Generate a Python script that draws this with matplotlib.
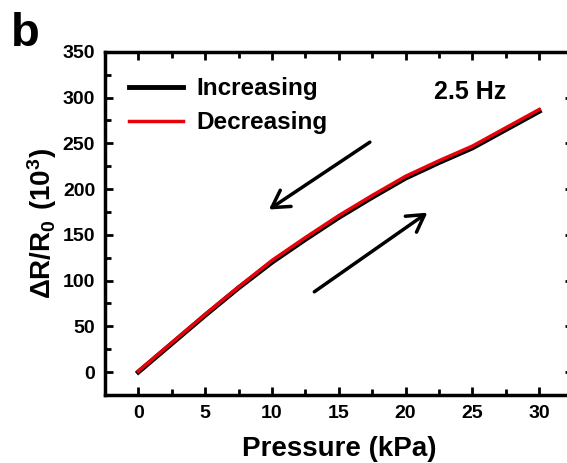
import matplotlib
matplotlib.use("Agg")
import matplotlib.pyplot as plt
from matplotlib.ticker import MultipleLocator

plt.rcParams['font.family'] = ['Liberation Sans', 'DejaVu Sans']
plt.rcParams['font.weight'] = 'bold'
plt.rcParams['mathtext.fontset'] = 'custom'
plt.rcParams['mathtext.rm'] = 'Liberation Sans'
plt.rcParams['mathtext.bf'] = 'Liberation Sans:bold'

# pressure (kPa) and resistance change (10^3)
pressure = [0, 2.5, 5, 7.5, 10, 12.5, 15, 17.5, 20, 22.5, 25, 27.5, 30]
increasing = [0, 31, 62, 92, 120, 145, 169, 191, 212, 229, 245, 265, 285]
decreasing = [1, 32, 63, 93, 122, 147, 171, 193, 214, 231, 247, 267, 287]

fig = plt.figure(figsize=(5.67, 4.63), dpi=100)
ax = fig.add_axes([0.185, 0.147, 0.825, 0.741])

ax.plot(pressure, increasing, color='black', linewidth=3.5, label='Increasing')
ax.plot(pressure, decreasing, color='#e8000b', linewidth=2.5, label='Decreasing')

ax.set_xlim(-2.5, 32.5)
ax.set_ylim(-25, 350)
ax.xaxis.set_major_locator(MultipleLocator(5))
ax.xaxis.set_minor_locator(MultipleLocator(2.5))
ax.yaxis.set_major_locator(MultipleLocator(50))
ax.yaxis.set_minor_locator(MultipleLocator(25))
ax.tick_params(which='both', direction='in', top=True, right=True, width=2)
ax.tick_params(which='major', length=6, labelsize=14, pad=7)
ax.tick_params(which='minor', length=4)
for s in ax.spines.values():
    s.set_linewidth(2.5)

ax.set_xlabel('Pressure (kPa)', fontsize=20, fontweight='bold', labelpad=10)
ax.set_ylabel(r'$\mathrm{\Delta}\mathbf{R/R_0\ (10^3)}$', fontsize=20, labelpad=3)

ax.annotate('', xy=(9.6, 176), xytext=(17.5, 253),
            arrowprops=dict(arrowstyle='->,head_length=0.6,head_width=0.35',
                            color='black', lw=2.5, mutation_scale=20))
ax.annotate('', xy=(21.8, 176), xytext=(13.0, 86),
            arrowprops=dict(arrowstyle='->,head_length=0.6,head_width=0.35',
                            color='black', lw=2.5, mutation_scale=20))

ax.text(24.8, 306, '2.5 Hz', fontsize=18, fontweight='bold', va='center', ha='center')

leg = ax.legend(loc='upper left', frameon=False, fontsize=17.5, handlelength=2.2,
                handletextpad=0.55, borderaxespad=0.5, labelspacing=0.45,
                bbox_to_anchor=(0.005, 0.99))
fig.text(0.02, 0.975, 'b', fontsize=34, fontweight='bold', va='top')

fig.savefig('out.png', dpi=100)
